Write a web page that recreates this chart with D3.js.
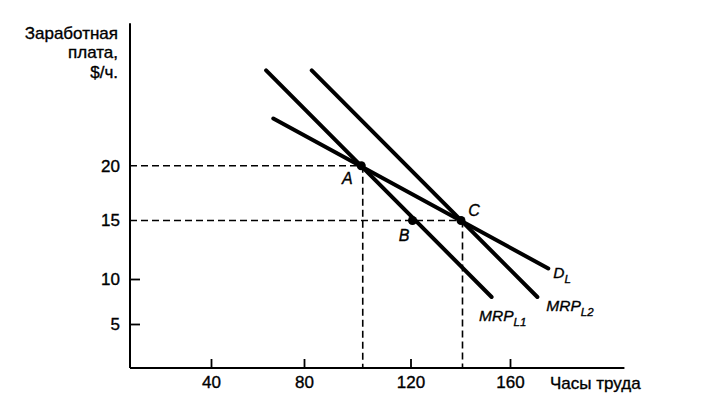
<!DOCTYPE html>
<html>
<head>
<meta charset="utf-8">
<script src="https://cdn.jsdelivr.net/npm/d3@7/dist/d3.min.js"></script>
<style>
  html, body { margin: 0; padding: 0; background: #fff; }
  svg { display: block; }
  text { font-family: "Liberation Sans", Arial, Helvetica, sans-serif; fill: #000; stroke: #000; stroke-width: 0.35px; }
</style>
</head>
<body>
<svg id="chart" width="704" height="397"></svg>
<script>
// ---- data ----
const xTickValues = [40, 80, 120, 160];
const yTickValues = [5, 10, 15, 20];
const yTitle = ["Заработная", "плата,", "$/ч."];
const xTitle = "Часы труда";

// curves: endpoints in (hours, wage)
const mrpL1 = [[63.7, 28.7], [152.6, 8.0]];
const mrpL2 = [[82.9, 28.7], [171.0, 8.0]];
const demandL = [[66.8, 24.3], [175.4, 10.9]];
const curveNames = [
  { main: "MRP", sub: "L1" },
  { main: "MRP", sub: "L2" },
  { main: "D", sub: "L" }
];

// marked points
const pointNames = ["A", "B", "C"];
const pointHours = [101.5, 120.8, 140.3];
const pointWages = [20, 15, 15];

// axis extents (data units)
const xAxisRange = [5, 206];
const yAxisRange = [0, 33];

// ---- scales (piecewise, matching the printed tick spacing) ----
const x = d3.scaleLinear().domain([5, 40, 80, 120, 160]).range([130, 211, 304, 410.5, 510]);
const y = d3.scaleLinear().domain([0, 5, 10, 15, 20]).range([368, 324, 279, 220.5, 165.7]);

const svg = d3.select("#chart");

// axes lines
svg.append("line")
  .attr("x1", x(xAxisRange[0])).attr("x2", x(xAxisRange[0]))
  .attr("y1", y(yAxisRange[0])).attr("y2", y(yAxisRange[1]))
  .attr("stroke", "#000").attr("stroke-width", 2);
svg.append("line")
  .attr("x1", x(xAxisRange[0])).attr("x2", x(xAxisRange[1]))
  .attr("y1", y(yAxisRange[0])).attr("y2", y(yAxisRange[0]))
  .attr("stroke", "#000").attr("stroke-width", 2);

// y axis ticks
const yAxis = d3.axisLeft(y).tickValues(yTickValues).tickSizeInner(-10).tickSizeOuter(0).tickPadding(10)
  .tickFormat(d3.format("d"));
const gy = svg.append("g").attr("transform", `translate(${x(xAxisRange[0])},0)`).call(yAxis);
gy.select(".domain").remove();
gy.selectAll(".tick line").attr("stroke", "#000").attr("stroke-width", 1.8)
  .attr("display", d => (d >= 15 ? "none" : null));
gy.selectAll(".tick text").attr("font-size", 17).attr("font-family", null);

// x axis ticks
const xAxis = d3.axisBottom(x).tickValues(xTickValues).tickSizeInner(-9).tickSizeOuter(0).tickPadding(8)
  .tickFormat(d3.format("d"));
const gx = svg.append("g").attr("transform", `translate(0,${y(yAxisRange[0])})`).call(xAxis);
gx.select(".domain").remove();
gx.selectAll(".tick line").attr("stroke", "#000").attr("stroke-width", 1.8);
gx.selectAll(".tick text").attr("font-size", 17).attr("font-family", null);

// titles
const yt = svg.append("text").attr("text-anchor", "end").attr("font-size", 17);
yTitle.forEach((t, i) => {
  yt.append("tspan").attr("x", 118).attr("y", 38.5 + i * 19.5).text(t);
});
svg.append("text").attr("x", 550).attr("y", 388.5).attr("font-size", 17).text(xTitle);

// guides (dashed)
const guides = svg.append("g").attr("stroke", "#000").attr("stroke-width", 1.6)
  .attr("stroke-dasharray", "7,4").attr("fill", "none");
// horizontal: from the axis to A and C
[0, 2].forEach(pi => {
  guides.append("line")
    .attr("x1", x(xAxisRange[0])).attr("x2", x(pointHours[pi]))
    .attr("y1", y(pointWages[pi])).attr("y2", y(pointWages[pi]));
});
// vertical: from A and C down to the axis
[0, 2].forEach(pi => {
  guides.append("line")
    .attr("x1", x(pointHours[pi]) + 1.5).attr("x2", x(pointHours[pi]) + 1.5)
    .attr("y1", y(pointWages[pi])).attr("y2", y(yAxisRange[0]));
});

// curves
const line = d3.line().x(d => x(d[0])).y(d => y(d[1]));
const curves = [mrpL1, mrpL2, demandL];
svg.append("g").selectAll("path").data(curves).join("path")
  .attr("d", line)
  .attr("fill", "none").attr("stroke", "#000").attr("stroke-width", 4).attr("stroke-linecap", "round");

// points
const pts = pointNames.map((n, i) => ({ n, h: pointHours[i], w: pointWages[i] }));
svg.append("g").selectAll("circle").data(pts).join("circle")
  .attr("cx", d => x(d.h)).attr("cy", d => y(d.w)).attr("r", 4.5).attr("fill", "#000");

const ptOffsets = { A: [-14, 18.5], B: [-8.5, 20], C: [13, -4.5] };
svg.append("g").selectAll("text").data(pts).join("text")
  .attr("x", d => x(d.h) + ptOffsets[d.n][0])
  .attr("y", d => y(d.w) + ptOffsets[d.n][1])
  .attr("text-anchor", "middle").attr("font-size", 16).attr("font-style", "italic")
  .text(d => d.n);

// curve labels, placed next to each curve's lower end
const labOffsets = [[-12.5, 24], [9, 14], [5, 10]];
curves.forEach((c, i) => {
  const end = c[c.length - 1];
  const t = svg.append("text")
    .attr("x", x(end[0]) + labOffsets[i][0])
    .attr("y", y(end[1]) + labOffsets[i][1])
    .attr("font-size", 15.5).attr("font-style", "italic");
  t.append("tspan").text(curveNames[i].main);
  t.append("tspan").attr("font-size", 11.5).attr("dy", 5).text(curveNames[i].sub);
});
</script>
</body>
</html>
